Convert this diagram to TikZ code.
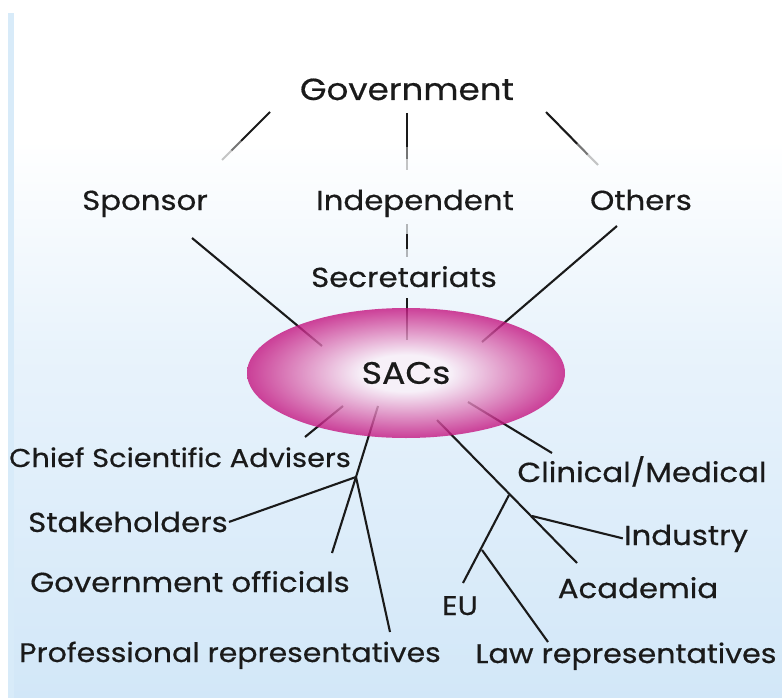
\documentclass[tikz,border=0pt]{standalone}
\usepackage{fontspec}
\setmainfont{Poppins}[FakeStretch=1.12, FakeBold=0.5]
\usetikzlibrary{shapes.geometric,calc}

\definecolor{txt}{HTML}{1A1A1A}
\definecolor{panelblue}{HTML}{D2E7F8}
\definecolor{stripblue}{HTML}{D8EBF9}
\definecolor{sacout}{HTML}{C4137F}
\definecolor{sacin}{HTML}{FBF0F8}
\pgfdeclareradialshading{sacs}{\pgfpoint{0bp}{0bp}}{color(0bp)=(sacin); color(7bp)=(sacin); color(25bp)=(sacout); color(50bp)=(sacout)}
\pgfdeclareverticalshading{panel}{100bp}{color(0bp)=(panelblue); color(25bp)=(panelblue); color(50bp)=(panelblue!50!white); color(65bp)=(white); color(100bp)=(white)}

\begin{document}
\begin{tikzpicture}[x=1pt, y=-1pt,
    main/.style = {text=txt, anchor=base, inner sep=1pt, font=\fontsize{27.5}{32}\selectfont},
    top/.style = {main},
    link/.style = {draw=txt, line width=2.1pt},
    faint/.style = {link, draw opacity=#1}]
    \useasboundingbox (0,0) rectangle (782,698);
    % backdrop
    \fill[stripblue] (8,13) rectangle (14,698);
    \shade[shading=panel] (14,0) rectangle (782,698);

    % labels
    \node[top, font=\fontsize{30.5}{36}\selectfont] (1) at (407,100) {Government};
    \node[top] (2) at (145,210) {Sponsor};
    \node[top] (3) at (415,210) {Independent};
    \node[top] (4) at (641,210) {Others};
    \node[top] (5) at (404,287) {Secretariats};
    \node[main, font=\fontsize{25.8}{30}\selectfont] (7) at (180,467) {Chief Scientific Advisers};
    \node[main] (8) at (642,482) {Clinical/Medical};
    \node[main] (9) at (128,532) {Stakeholders};
    \node[main] (10) at (190,592) {Government officials};
    \node[main, font=\fontsize{26.7}{31}\selectfont] (11) at (230,662) {Professional representatives};
    \node[main] (12) at (686,545) {Industry};
    \node[main] (13) at (638,598) {Academia};
    \node[main, font=\fontsize{26.9}{31}\selectfont] (14) at (460,615) {EU};
    \node[main, font=\fontsize{26.9}{31}\selectfont] (15) at (626,663) {Law representatives};

    % line ends
    \coordinate (gs1) at (270,112); \coordinate (gs2) at (222,160);
    \coordinate (gi1) at (407,113); \coordinate (gi2) at (407,170);
    \coordinate (go1) at (546,112); \coordinate (go2) at (598,165);
    \coordinate (is1) at (407,224); \coordinate (is2) at (407,257);
    \coordinate (ss1) at (192,238); \coordinate (ss2) at (322,346);
    \coordinate (se1) at (407,298); \coordinate (se2) at (407,340);
    \coordinate (os1) at (617,226); \coordinate (os2) at (482,342);
    \coordinate (sc1) at (343,406); \coordinate (sc2) at (305,437);
    \coordinate (sm1) at (468,402); \coordinate (sm2) at (552,453);
    \coordinate (sl) at (378,406);  \coordinate (bl) at (356,477);
    \coordinate (gof) at (332,553); \coordinate (pro) at (390,632);
    \coordinate (sa) at (437,420);  \coordinate (aca) at (577,563);
    \coordinate (br1) at (509,495); \coordinate (br2) at (532,516);
    \coordinate (eu) at (463,583);  \coordinate (br3) at (482,550);
    \coordinate (law) at (548,642);

    % connectors, the top ones fading out
    \foreach \a/\b in {gs1/gs2, gi1/gi2, go1/go2} {
        \draw[link] (\a) -- ($(\a)!0.6!(\b)$);
        \draw[faint=0.6] ($(\a)!0.6!(\b)$) -- ($(\a)!0.8!(\b)$);
        \draw[faint=0.25] ($(\a)!0.8!(\b)$) -- (\b);
    }
    \draw[faint=0.3] (is1) -- ($(is1)!0.3!(is2)$);
    \draw[link] ($(is1)!0.3!(is2)$) -- ($(is1)!0.75!(is2)$);
    \draw[faint=0.3] ($(is1)!0.75!(is2)$) -- (is2);
    \draw[link] (ss1) -- (ss2);
    \draw[link] (se1) -- (se2);
    \draw[link] (os1) -- (os2);
    \draw[link] (sc1) -- (sc2);
    \draw[link] (sm1) -- (sm2);
    \draw[link] (sl) -- (bl);
    \draw[link] (bl) -- (9.east);
    \draw[link] (bl) -- (gof);
    \draw[link] (bl) -- (pro);
    \draw[link] (sa) -- (aca);
    \draw[link] (br2) -- (12.west);
    \draw[link] (br1) -- (eu);
    \draw[link] (br3) -- (law);

    % SACs
    \node[ellipse, shading=sacs, fill opacity=0.8, text opacity=1, minimum width=318pt, minimum height=130pt, inner sep=0pt, text=txt, font=\fontsize{31}{36}\selectfont] (6) at (406,373) {SACs};
\end{tikzpicture}
\end{document}
